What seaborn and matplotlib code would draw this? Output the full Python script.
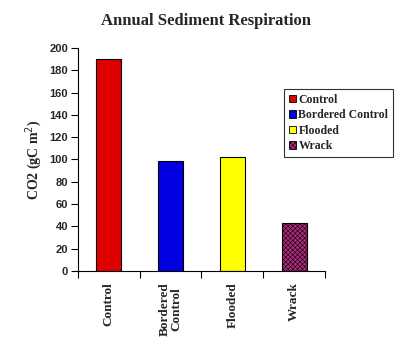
import matplotlib
matplotlib.use("Agg")
import matplotlib.pyplot as plt
import seaborn as sns
from matplotlib.patches import Patch

# -----------------------------
# Data
# -----------------------------
categories = ["Control", "Bordered Control", "Flooded", "Wrack"]
tick_labels = ["Control", "Bordered\nControl", "Flooded", "Wrack"]
respiration = [190, 99, 102, 43]
colors = ["#e00000", "#0000e0", "#ffff00", "#b0287e"]

# -----------------------------
# Plot
# -----------------------------
sns.set_style("white")
plt.rcParams["hatch.linewidth"] = 0.4

fig = plt.figure(figsize=(4.12, 3.58), dpi=100)
ax = fig.add_axes([0.189, 0.243, 0.6, 0.623])

sns.barplot(
    x=categories, y=respiration, hue=categories,
    palette=colors, saturation=1, width=0.4, legend=False,
    edgecolor="black", linewidth=0.8, ax=ax,
)
ax.patches[3].set_hatch("xxxxxxx")

ax.set_xlim(-0.5, 3.5)
ax.set_ylim(0, 200)
ax.set_yticks(range(0, 201, 20))
ax.tick_params(axis="y", direction="out", length=5, width=0.8, color="black",
               left=True, labelsize=8, pad=2)
for lbl in ax.get_yticklabels():
    lbl.set_fontweight("bold")
    lbl.set_family("Liberation Sans")

ax.set_xticks(range(4))
ax.set_xticklabels(tick_labels, rotation=90, family="Liberation Serif",
                   fontweight="bold", fontsize=9.5, va="top", linespacing=0.95)
ax.tick_params(axis="x", which="major", length=0, pad=8)
ax.set_xticks([-0.5, 0.5, 1.5, 2.5, 3.5], minor=True)
ax.tick_params(axis="x", which="minor", direction="out", length=5, width=0.8,
               color="black", bottom=True)

for side in ["top", "right"]:
    ax.spines[side].set_visible(False)
for side in ["left", "bottom"]:
    ax.spines[side].set_color("black")
    ax.spines[side].set_linewidth(0.8)

ax.set_ylabel("CO2 (gC m$^{2}$)", family="Liberation Serif", fontsize=10,
              fontweight="bold", labelpad=4)

fig.suptitle("Annual Sediment Respiration", family="Liberation Serif",
             fontweight="bold", fontsize=12, y=0.965)

handles = [Patch(facecolor=c, edgecolor="black", linewidth=0.6) for c in colors]
handles[3].set_hatch("xxxxxxx")
leg = fig.legend(
    handles, categories, loc="upper left", bbox_to_anchor=(0.69, 0.752),
    prop={"family": "Liberation Serif", "weight": "bold", "size": 8.5},
    frameon=True, fancybox=False, edgecolor="black", handlelength=0.6,
    handleheight=0.6, handletextpad=0.2, labelspacing=0.3, borderpad=0.4,
    borderaxespad=0,
)
leg.get_frame().set_linewidth(0.8)

plt.savefig("out.png", dpi=100)
plt.close()
